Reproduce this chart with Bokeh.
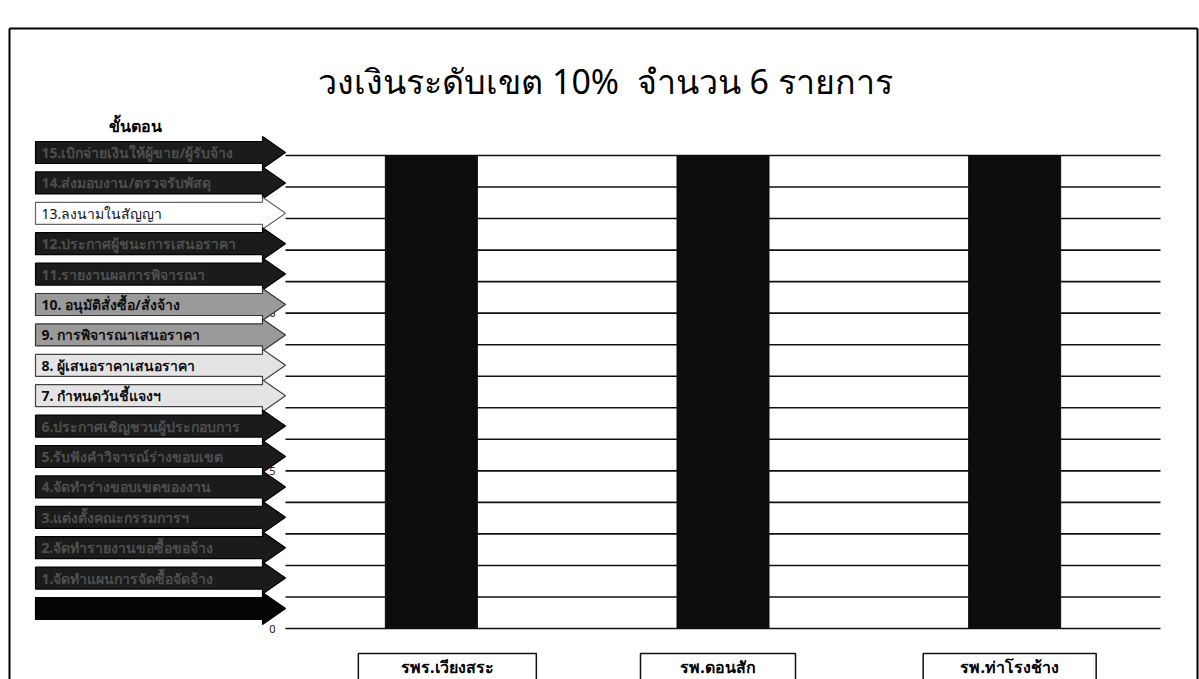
import numpy as np
from bokeh.plotting import figure
from bokeh.models import Range1d
from bokeh.core.properties import value
from bokeh.embed import file_html
from bokeh.resources import INLINE

# ---------------- data ----------------
title_text = "วงเงินระดับเขต 10%\u00a0\u00a0จำนวน 6 รายการ"
steps_header = "ขั้นตอน"
hospitals = ["รพร.เวียงสระ", "รพ.ดอนสัก", "รพ.ท่าโรงช้าง"]
step_values = [15, 15, 15]          # steps reached by each hospital
y_max = 15
y_tick_labels = ["0", "5", "10", "15"]
step_labels = [
    "15.เบิกจ่ายเงินให้ผู้ขาย/ผู้รับจ้าง",
    "14.ส่งมอบงาน/ตรวจรับพัสดุ",
    "13.ลงนามในสัญญา",
    "12.ประกาศผู้ชนะการเสนอราคา",
    "11.รายงานผลการพิจารณา",
    "10. อนุมัติสั่งซื้อ/สั่งจ้าง",
    "9. การพิจารณาเสนอราคา",
    "8. ผู้เสนอราคาเสนอราคา",
    "7. กำหนดวันชี้แจงฯ",
    "6.ประกาศเชิญชวนผู้ประกอบการ",
    "5.รับฟังคำวิจารณ์ร่างขอบเขต",
    "4.จัดทำร่างขอบเขตของงาน",
    "3.แต่งตั้งคณะกรรมการฯ",
    "2.จัดทำรายงานขอซื้อขอจ้าง",
    "1.จัดทำแผนการจัดซื้อจัดจ้าง",
    "",
]
# arrow style per row: "dark", "mid", "light", "white", "black"
step_styles = ["dark", "dark", "white", "dark", "dark", "mid", "mid", "light",
               "light", "dark", "dark", "dark", "dark", "dark", "dark", "black"]

# ---------------- layout (pixels -> data) ----------------
W, H = 1199, 679
px_x = 875 / len(hospitals)      # px per category unit
px_y = 473 / y_max               # px per step unit
x0_page, y0_page = 285, 628      # picture position of the data origin
x_start = -x0_page / px_x
x_end = (W - x0_page) / px_x
y_start = -(H - y0_page) / px_y
y_end = y0_page / px_y

def dx(px):
    return px / px_x

def dy(px):
    return px / px_y

p = figure(width=W, height=H, x_range=Range1d(x_start, x_end),
           y_range=Range1d(y_start, y_end), x_axis_type=None, y_axis_type=None,
           toolbar_location=None, output_backend="svg", min_border=0)
p.outline_line_color = None
p.background_fill_color = "white"
p.border_fill_color = "white"

FONT = value("Noto Sans")

# horizontal step lines
ticks = np.arange(0, y_max + 1)
p.segment(x0=0, x1=len(hospitals), y0=ticks, y1=ticks, line_color="#111111", line_width=1.6)

# y tick labels (mostly hidden behind the arrows)
yt = [int(t) for t in y_tick_labels]
p.text(x=[-dx(10)] * len(yt), y=yt, text=y_tick_labels, text_align="right",
       text_baseline="middle", text_font_size="11px", text_font=FONT, text_color="#222222")

# arrows
n = len(step_labels)
centers = dy(628 - 152) - np.arange(n) * dy(30.4)
xl, xb, xt = -dx(250), -dx(23), 0.0
bh, hh = dy(11), dy(16)
fill_map = {"dark": "#1b1b1b", "black": "#050505", "mid": "#9a9a9a", "light": "#e4e4e4", "white": "#ffffff"}
line_map = {"dark": "#000000", "black": "#000000", "mid": "#333333", "light": "#444444", "white": "#666666"}
text_map = {"dark": "#4e4e4e", "black": "#050505", "mid": "#111111", "light": "#111111", "white": "#111111"}
xs, ys, fills, lines = [], [], [], []
for c, s in zip(centers, step_styles):
    xs.append([xl, xb, xb, xt, xb, xb, xl])
    ys.append([c + bh, c + bh, c + hh, c, c - hh, c - bh, c - bh])
    fills.append(fill_map[s])
    lines.append(line_map[s])
p.patches(xs=xs, ys=ys, fill_color=fills, line_color=lines, line_width=1.2)
p.text(x=[xl + dx(6)] * n, y=list(centers), text=step_labels, text_align="left",
       text_baseline="middle", text_font_size="14px", text_font=FONT,
       text_font_style=["normal" if s == "white" else "bold" for s in step_styles],
       text_color=[text_map[s] for s in step_styles])

p.text(x=[-dx(150)], y=[dy(628 - 125)], text=[steps_header], text_align="center",
       text_baseline="middle", text_font_size="16px", text_font_style="bold",
       text_font=FONT, text_color="#000000")

# bars
bx = np.arange(len(hospitals)) + 0.5
p.vbar(x=bx, top=step_values, bottom=0, width=dx(92), fill_color="#0d0d0d", line_color="#0d0d0d")

# category label boxes
box_off = [dx(16), dx(-5), dx(-5)]
box_w = [dx(178), dx(155), dx(173)]
box_top, box_bot = -dy(25), y_start - dy(20)
p.rect(x=bx + np.array(box_off), y=(box_top + box_bot) / 2, width=box_w,
       height=box_top - box_bot, fill_color="white", line_color="#111111", line_width=1.5)
p.text(x=bx + np.array(box_off), y=-dy(38), text=hospitals, text_align="center",
       text_baseline="middle", text_font_size="16px", text_font_style="bold",
       text_font=FONT, text_color="#000000")

# title
p.text(x=[dx(605 - 285)], y=[dy(628 - 80)], text=[title_text], text_align="center",
       text_baseline="middle", text_font_size="34px", text_font=FONT, text_color="#000000")

# outer frame (top, left, right)
top = dy(628 - 28)
p.line(x=[x_start + dx(9), x_start + dx(9)], y=[y_start, top], line_color="black", line_width=2)
p.line(x=[x_start + dx(9), x_end - dx(2)], y=[top, top], line_color="black", line_width=2)
p.line(x=[x_end - dx(2), x_end - dx(2)], y=[y_start, top], line_color="black", line_width=2)

open("out.html", "w").write(file_html(p, INLINE))
